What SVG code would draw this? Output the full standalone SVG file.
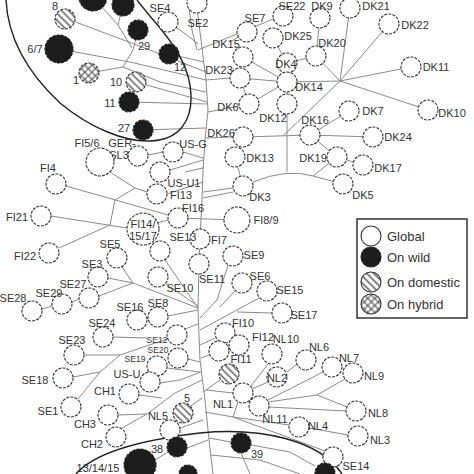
<svg xmlns="http://www.w3.org/2000/svg" width="474" height="474" viewBox="0 0 474 474">
<style>
.e{fill:none;stroke:#8a8a8a;stroke-width:1}
.n{fill:#fff;stroke:#333;stroke-width:1.1;stroke-dasharray:3 1.2}
.w{fill:#1c1c1c;stroke:#222;stroke-width:1.1;stroke-dasharray:3 1.2}
.d{fill:url(#hatch);stroke:#333;stroke-width:1.1;stroke-dasharray:3 1.2}
.h{fill:url(#cross);stroke:#333;stroke-width:1.1;stroke-dasharray:3 1.2}
.l{font-family:"Liberation Sans",Arial,sans-serif;font-size:11px;fill:#333;text-anchor:middle}
.s{font-family:"Liberation Sans",Arial,sans-serif;font-size:8.5px;fill:#333;text-anchor:middle}
.g{font-family:"Liberation Sans",Arial,sans-serif;font-size:13px;fill:#333}
.enc{fill:none;stroke:#222;stroke-width:1.4}
</style>
<defs>
<pattern id="hatch" patternUnits="userSpaceOnUse" width="5" height="5" patternTransform="rotate(-45)"><rect width="5" height="5" fill="#fff"/><line x1="1" y1="0" x2="1" y2="5" stroke="#444" stroke-width="1.3"/></pattern>
<pattern id="cross" patternUnits="userSpaceOnUse" width="5" height="5" patternTransform="rotate(45)"><rect width="5" height="5" fill="#fff"/><line x1="1" y1="0" x2="1" y2="5" stroke="#444" stroke-width="1"/><line x1="0" y1="1" x2="5" y2="1" stroke="#444" stroke-width="1"/></pattern>
</defs>
<rect width="474" height="474" fill="#fff"/>
<g id="connectors">
<path class="e" d="M196,0 L201,40 L206,80 L208,110 L205,140 L203,170 L202,200 L200,239 L199,264 L198,310 L200,360 L205,400 L209,440 L213,474"/>
<path class="e" d="M188,0 L192,30 L197,50"/>
<path class="e" d="M93,-3 L118,25 L132,48 M123,5 L118,25 M65,18 L150,50 L206,72 M138,30 L133,50 L123,67 L89,73 M123,67 L160,82 L206,92 M59,49 L130,62 L206,80 M169,54 L204,62 M136,82 L207,102 M129,102 L208,104 M143,130 L206,128 M168,22 L187,35 L198,44"/>
<path class="e" d="M198,50 L283,15 M230,42 L247,32 M243,57 L287,82 M240,78 L287,82 M249,104 L287,82 M249,104 L240,78 M273,38 L287,63 M287,63 L316,56 M320,17 L316,56 M316,56 L340,81 M287,82 L340,81 M340,81 L350,7 M340,81 L389,24 M340,81 L411,67 M340,81 L428,110 M340,81 L283,136 M287,82 L287,104 M287,104 L287,172 M230,78 L206,80 M239,106 L208,112 M233,137 L205,138 M243,137 L310,135 M310,135 L349,111 M310,135 L373,137 M310,135 L337,157 M337,157 L363,165 M235,157 L243,186 M253,182 Q287,168 313,176 M313,176 L337,157 M313,176 L343,184 M233,188 L203,192 M233,192 L203,198 M178,218 L237,220"/>
<path class="e" d="M148,155 L163,152 M183,152 L203,158 M170,170 L203,160 M185,172 L203,168 M110,172 L135,188 L147,192 M135,188 L115,200 L110,225 M66,186 L168,215 M51,216 L127,228 M59,248 L110,225 M157,223 L168,220 M167,194 L203,182"/>
<path class="e" d="M165,260 L198,308 M122,267 L133,283 M108,278 L133,283 M99,296 L133,283 M133,283 L198,308 M166,284 L198,306 M72,302 L79,299 M42,309 L52,306 M147,319 L148,318 M168,316 L198,310 M113,337 L147,338 M185,329 L198,324 M78,399 L100,372 L120,355 L170,338 M84,355 L120,355 M73,377 L100,372 M188,359 L200,362 M167,368 L200,372 M160,383 L180,380 L201,372 M139,395 L162,398 M118,415 L147,414 L175,393 L202,380 M122,428 L147,414 M180,428 L203,420 M191,406 L202,398 M187,448 L208,440 M231,442 L209,438 M155,460 L168,452"/>
<path class="e" d="M228,265 L217,300 L200,318 M235,291 L220,307 M259,298 L200,330 M272,313 L237,312 M215,338 L200,345 M209,355 L201,358 M220,380 L203,392 M268,364 L251,386 M268,382 L252,389 M287,372 L297,364 M323,372 L268,400 M345,379 L317,395 L268,402 M317,395 L347,407 M346,411 L269,407 M243,393 L259,406 M238,402 L233,417 L205,412 M233,417 L289,425 M233,417 L325,451 M309,428 L348,435 M233,393 L206,390 M211,455 L260,460 L300,474 M241,453 L250,474 M315,466 L290,452 L251,445"/>
</g>
<g id="enclosures">
<path class="enc" d="M6,0 C8,40 30,75 60,103 C90,128 125,142 150,141 C180,140 192,120 191,95 C190,70 178,50 160,28 Q148,14 137,0"/>
<path class="enc" d="M76,474 C95,452 140,440 200,433 C260,427 320,440 342,474"/>
</g>
<g id="nodes">
<g id="SE4"><circle class="n" cx="168" cy="22" r="10"/><text class="l" x="160" y="12">SE4</text></g>
<g id="SE2"><circle class="n" cx="197" cy="3" r="10"/><text class="l" x="198" y="27">SE2</text></g>
<g id="SE22"><circle class="n" cx="283" cy="16" r="10"/><text class="l" x="292" y="10">SE22</text></g>
<g id="DK9"><circle class="n" cx="320" cy="18" r="10"/><text class="l" x="322" y="10">DK9</text></g>
<g id="DK21"><circle class="n" cx="350" cy="8" r="10"/><text class="l" x="376" y="10">DK21</text></g>
<g id="DK22"><circle class="n" cx="389" cy="24" r="10"/><text class="l" x="415" y="29">DK22</text></g>
<g id="SE7"><circle class="n" cx="247" cy="32" r="10"/><text class="l" x="255" y="22">SE7</text></g>
<g id="DK25"><circle class="n" cx="273" cy="38" r="10"/><text class="l" x="298" y="40">DK25</text></g>
<g id="DK15"><circle class="n" cx="243" cy="57" r="10"/><text class="l" x="226" y="48">DK15</text></g>
<g id="DK20"><circle class="n" cx="316" cy="56" r="10"/><text class="l" x="332" y="47">DK20</text></g>
<g id="DK4"><circle class="n" cx="287" cy="63" r="10"/><text class="l" x="286" y="68">DK4</text></g>
<g id="DK11"><circle class="n" cx="411" cy="67" r="10"/><text class="l" x="436" y="71">DK11</text></g>
<g id="DK23"><circle class="n" cx="240" cy="78" r="10"/><text class="l" x="219" y="74">DK23</text></g>
<g id="DK14"><circle class="n" cx="287" cy="82" r="10"/><text class="l" x="309" y="91">DK14</text></g>
<g id="DK6"><circle class="n" cx="249" cy="104" r="10"/><text class="l" x="228" y="111">DK6</text></g>
<g id="DK12"><circle class="n" cx="287" cy="104" r="10"/><text class="l" x="273" y="122">DK12</text></g>
<g id="DK7"><circle class="n" cx="349" cy="111" r="10"/><text class="l" x="373" y="115">DK7</text></g>
<g id="DK10"><circle class="n" cx="428" cy="110" r="10"/><text class="l" x="452" y="117">DK10</text></g>
<g id="DK16"><circle class="n" cx="310" cy="135" r="10"/><text class="l" x="315" y="124">DK16</text></g>
<g id="DK24"><circle class="n" cx="373" cy="137" r="10"/><text class="l" x="398" y="141">DK24</text></g>
<g id="DK26"><circle class="n" cx="243" cy="137" r="10"/><text class="l" x="221" y="137">DK26</text></g>
<g id="DK13"><circle class="n" cx="235" cy="157" r="10"/><text class="l" x="260" y="162">DK13</text></g>
<g id="DK19"><circle class="n" cx="337" cy="157" r="10"/><text class="l" x="313" y="162">DK19</text></g>
<g id="DK17"><circle class="n" cx="363" cy="165" r="10"/><text class="l" x="388" y="172">DK17</text></g>
<g id="DK3"><circle class="n" cx="243" cy="186" r="10"/><text class="l" x="260" y="201">DK3</text></g>
<g id="DK5"><circle class="n" cx="343" cy="184" r="10"/><text class="l" x="363" y="199">DK5</text></g>
<g id="GER-SL3"><circle class="n" cx="138" cy="156" r="10"/><text class="l" x="122" y="147">GER-</text><text class="l" x="119" y="159">SL3</text></g>
<g id="FI5-6"><circle class="n" cx="100" cy="162" r="14"/><text class="l" x="87" y="147">FI5/6</text></g>
<g id="US-G"><circle class="n" cx="173" cy="152" r="10"/><text class="l" x="193" y="148">US-G</text></g>
<g id="US-U1"><circle class="n" cx="160" cy="172" r="10"/><text class="l" x="184" y="187">US-U1</text></g>
<g id="FI4"><circle class="n" cx="56" cy="184" r="10"/><text class="l" x="48" y="172">FI4</text></g>
<g id="FI13"><circle class="n" cx="157" cy="194" r="10"/><text class="l" x="181" y="199">FI13</text></g>
<g id="FI16"><circle class="n" cx="178" cy="218" r="10"/><text class="l" x="193" y="212">FI16</text></g>
<g id="FI8-9"><circle class="n" cx="237" cy="220" r="13"/><text class="l" x="266" y="224">FI8/9</text></g>
<g id="FI21"><circle class="n" cx="41" cy="216" r="10"/><text class="l" x="17" y="221">FI21</text></g>
<g id="FI14-15-17"><circle class="n" cx="143" cy="229" r="16"/><text class="l" x="143" y="228">FI14/</text><text class="l" x="143" y="240">15/17</text></g>
<g id="FI7"><circle class="n" cx="200" cy="239" r="10"/><text class="l" x="219" y="244">FI7</text></g>
<g id="SE13"><circle class="n" cx="160" cy="251" r="10"/><text class="l" x="183" y="241">SE13</text></g>
<g id="FI22"><circle class="n" cx="49" cy="253" r="10"/><text class="l" x="25" y="260">FI22</text></g>
<g id="SE5"><circle class="n" cx="117" cy="258" r="10"/><text class="l" x="110" y="248">SE5</text></g>
<g id="SE9"><circle class="n" cx="233" cy="256" r="10"/><text class="l" x="254" y="259">SE9</text></g>
<g id="SE11"><circle class="n" cx="199" cy="264" r="10"/><text class="l" x="212" y="283">SE11</text></g>
<g id="SE3"><circle class="n" cx="98" cy="277" r="10"/><text class="l" x="92" y="268">SE3</text></g>
<g id="SE10"><circle class="n" cx="158" cy="277" r="10"/><text class="l" x="180" y="292">SE10</text></g>
<g id="SE6"><circle class="n" cx="242" cy="283" r="10"/><text class="l" x="260" y="280">SE6</text></g>
<g id="SE15"><circle class="n" cx="267" cy="291" r="10"/><text class="l" x="290" y="294">SE15</text></g>
<g id="SE27"><circle class="n" cx="89" cy="298" r="10"/><text class="l" x="73" y="288">SE27</text></g>
<g id="SE29"><circle class="n" cx="62" cy="304" r="10"/><text class="l" x="49" y="297">SE29</text></g>
<g id="SE28"><circle class="n" cx="32" cy="311" r="10"/><text class="l" x="13" y="302">SE28</text></g>
<g id="SE8"><circle class="n" cx="158" cy="317" r="10"/><text class="l" x="158" y="307">SE8</text></g>
<g id="SE16"><circle class="n" cx="137" cy="320" r="10"/><text class="l" x="130" y="311">SE16</text></g>
<g id="SE17"><circle class="n" cx="282" cy="313" r="10"/><text class="l" x="304" y="319">SE17</text></g>
<g id="FI10"><circle class="n" cx="225" cy="333" r="10"/><text class="l" x="243" y="327">FI10</text></g>
<g id="SE24"><circle class="n" cx="103" cy="337" r="10"/><text class="l" x="102" y="327">SE24</text></g>
<g id="SE12"><circle class="n" cx="177" cy="335" r="10"/><text class="s" x="157" y="343">SE12</text></g>
<g id="FI12"><circle class="n" cx="239" cy="345" r="10"/><text class="l" x="263" y="341">FI12</text></g>
<g id="FI11"><circle class="n" cx="219" cy="351" r="10"/><text class="l" x="241" y="363">FI11</text></g>
<g id="SE23"><circle class="n" cx="74" cy="355" r="10"/><text class="l" x="72" y="344">SE23</text></g>
<g id="NL10"><circle class="n" cx="272" cy="354" r="10"/><text class="l" x="286" y="343">NL10</text></g>
<g id="SE20"><circle class="n" cx="178" cy="358" r="10"/><text class="s" x="158" y="353">SE20</text></g>
<g id="NL6"><circle class="n" cx="306" cy="360" r="10"/><text class="l" x="319" y="351">NL6</text></g>
<g id="NL7"><circle class="n" cx="332" cy="367" r="10"/><text class="l" x="349" y="362">NL7</text></g>
<g id="SE19"><circle class="n" cx="157" cy="366" r="10"/><text class="s" x="135" y="362">SE19</text></g>
<g id="NL9"><circle class="n" cx="353" cy="373" r="10"/><text class="l" x="374" y="380">NL9</text></g>
<g id="NL2"><circle class="n" cx="277" cy="377" r="10"/><text class="l" x="277" y="382">NL2</text></g>
<g id="SE18"><circle class="n" cx="63" cy="378" r="10"/><text class="l" x="35" y="384">SE18</text></g>
<g id="US-U"><circle class="n" cx="150" cy="382" r="10"/><text class="l" x="127" y="378">US-U</text></g>
<g id="NL1"><circle class="n" cx="243" cy="393" r="10"/><text class="l" x="223" y="408">NL1</text></g>
<g id="CH1"><circle class="n" cx="129" cy="394" r="10"/><text class="l" x="105" y="395">CH1</text></g>
<g id="NL11"><circle class="n" cx="259" cy="406" r="10"/><text class="l" x="275" y="423">NL11</text></g>
<g id="SE1"><circle class="n" cx="71" cy="407" r="10"/><text class="l" x="48" y="415">SE1</text></g>
<g id="NL8"><circle class="n" cx="356" cy="411" r="10"/><text class="l" x="378" y="417">NL8</text></g>
<g id="CH3"><circle class="n" cx="108" cy="415" r="10"/><text class="l" x="85" y="428">CH3</text></g>
<g id="NL4"><circle class="n" cx="299" cy="427" r="10"/><text class="l" x="318" y="430">NL4</text></g>
<g id="NL5"><circle class="n" cx="170" cy="430" r="10"/><text class="l" x="158" y="420">NL5</text></g>
<g id="NL3"><circle class="n" cx="358" cy="436" r="10"/><text class="l" x="380" y="444">NL3</text></g>
<g id="CH2"><circle class="n" cx="116" cy="437" r="10"/><text class="l" x="92" y="448">CH2</text></g>
<g id="SE14"><circle class="n" cx="333" cy="457" r="10"/><text class="l" x="356" y="470">SE14</text></g>
<g id="wild-top1"><circle class="w" cx="93" cy="-3" r="14"/></g>
<g id="wild-top2"><circle class="w" cx="123" cy="5" r="11"/></g>
<g id="n6-7"><circle class="w" cx="59" cy="49" r="14"/><text class="l" x="35" y="53">6/7</text></g>
<g id="n29"><circle class="w" cx="138" cy="30" r="10"/><text class="l" x="144" y="50">29</text></g>
<g id="n12"><circle class="w" cx="169" cy="54" r="10"/><text class="l" x="180" y="71">12</text></g>
<g id="n11"><circle class="w" cx="129" cy="102" r="10"/><text class="l" x="110" y="107">11</text></g>
<g id="n27"><circle class="w" cx="143" cy="130" r="10"/><text class="l" x="124" y="132">27</text></g>
<g id="n38"><circle class="w" cx="177" cy="447" r="10"/><text class="l" x="157" y="453">38</text></g>
<g id="n39"><circle class="w" cx="241" cy="443" r="10"/><text class="l" x="257" y="458">39</text></g>
<g id="n13-14-15"><circle class="w" cx="140" cy="465" r="16"/><text class="l" x="98" y="472">13/14/15</text></g>
<g id="wild-b1"><circle class="w" cx="188" cy="474" r="9"/></g>
<g id="wild-b2"><circle class="w" cx="325" cy="473" r="10"/></g>
<g id="n8"><circle class="d" cx="65" cy="19" r="10"/><text class="l" x="55" y="10">8</text></g>
<g id="n10"><circle class="d" cx="136" cy="82" r="10"/><text class="l" x="116" y="86">10</text></g>
<g id="dom-fi"><circle class="d" cx="229" cy="374" r="10"/></g>
<g id="n5"><circle class="d" cx="183" cy="413" r="10"/><text class="l" x="187" y="402">5</text></g>
<g id="n1"><circle class="h" cx="89" cy="73" r="10"/><text class="l" x="76" y="84">1</text></g>
</g>
<g id="legend">
<rect x="357" y="219" width="110" height="99" fill="#fff" stroke="#333" stroke-width="1.5"/>
<circle cx="371" cy="236" r="10" fill="#fff" stroke="#333" stroke-width="1.1"/><text class="g" x="387" y="241">Global</text>
<circle cx="371" cy="257" r="10" fill="#1c1c1c" stroke="#222" stroke-width="1.1"/><text class="g" x="387" y="262">On wild</text>
<circle cx="371" cy="282" r="10" fill="url(#hatch)" stroke="#333" stroke-width="1.1"/><text class="g" x="387" y="287">On domestic</text>
<circle cx="371" cy="304" r="10" fill="url(#cross)" stroke="#333" stroke-width="1.1"/><text class="g" x="387" y="309">On hybrid</text>
</g>
</svg>
